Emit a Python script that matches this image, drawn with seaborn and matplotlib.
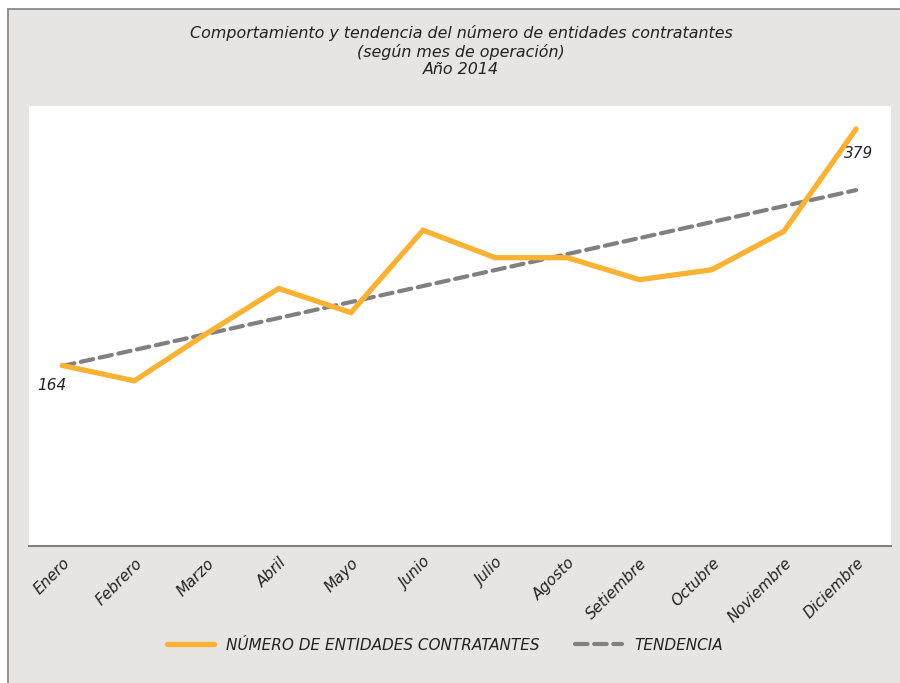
import numpy as np
import pandas as pd
import matplotlib
matplotlib.use("Agg")
import matplotlib.pyplot as plt
import seaborn as sns
from matplotlib.patches import Rectangle

# data
meses = ["Enero", "Febrero", "Marzo", "Abril", "Mayo", "Junio", "Julio",
         "Agosto", "Setiembre", "Octubre", "Noviembre", "Diciembre"]
entidades = [164, 150, 193, 234, 212, 287, 262, 262, 242, 251, 286, 379]

serie_label = "NÚMERO DE ENTIDADES CONTRATANTES"
tendencia_label = "TENDENCIA"
titulo = ("Comportamiento y tendencia del número de entidades contratantes\n"
          "(según mes de operación)\nAño 2014")

naranja = "#F9B233"
gris = "#808080"
fondo = "#E8E4E1"

sns.set_theme(style="white")
plt.rcParams["font.family"] = ["DejaVu Sans"]

df = pd.DataFrame({"pos": np.arange(len(meses)), "mes": meses, "valor": entidades})
# linear trend fitted on the series
coef = np.polyfit(df["pos"], df["valor"], 1)
df["tendencia"] = np.polyval(coef, df["pos"])

fig = plt.figure(figsize=(9, 6.83), dpi=100)
fig.patch.set_facecolor("white")
# outer frame of the chart area
fig.patches.append(Rectangle((8 / 900, -0.05), 1.2, (683 - 9) / 683 + 0.05,
                             transform=fig.transFigure, facecolor=fondo,
                             edgecolor="#8a8a8a", linewidth=1.3, zorder=-5))

ax = fig.add_axes([29 / 900, (683 - 545.7) / 683, (890.7 - 29) / 900, (545.7 - 106) / 683])
ax.set_facecolor("white")

sns.lineplot(data=df, x="pos", y="valor", ax=ax, color=naranja, linewidth=3.8,
             label=serie_label, solid_capstyle="round", solid_joinstyle="miter", zorder=3)
sns.lineplot(data=df, x="pos", y="tendencia", ax=ax, color=gris, linewidth=3.0,
             label=tendencia_label, dashes=False, zorder=2)
ax.lines[-1].set_dashes([3.0, 1.6])
ax.lines[-1].set_dash_capstyle("round")

ax.set_xlim(-0.46, len(meses) - 0.52)
ax.set_ylim(0, 400)
ax.set_yticks([])
ax.set_xticks(df["pos"])
ax.set_xticklabels(meses, rotation=45, ha="right", rotation_mode="anchor",
                   fontsize=11, color="#222222")
for t in ax.get_xticklabels():
    t.set_fontstyle("italic")
ax.tick_params(axis="x", length=0, pad=7)
ax.set_xlabel("")
ax.set_ylabel("")
for s in ["top", "left", "right"]:
    ax.spines[s].set_visible(False)
ax.spines["bottom"].set_color(gris)
ax.spines["bottom"].set_linewidth(1.5)

# value labels on first and last points
ax.annotate(str(entidades[0]), (0, entidades[0]), xytext=(-18, -18),
            textcoords="offset points", fontsize=11, style="italic", color="#222222")
ax.annotate(str(entidades[-1]), (len(meses) - 1, entidades[-1]), xytext=(-9, -21),
            textcoords="offset points", fontsize=11, style="italic", color="#222222")

fig.text(461 / 900, 1 - 25 / 683, titulo, ha="center", va="top", fontsize=11.4,
         style="italic", color="#222222", linespacing=1.22)

leg = ax.legend(loc="center", bbox_to_anchor=(445 / 900, 1 - 645 / 683),
                bbox_transform=fig.transFigure, ncol=2, frameon=False,
                fontsize=11, handlelength=3.1, columnspacing=2.3, handletextpad=0.8)
for t in leg.get_texts():
    t.set_style("italic")
    t.set_color("#222222")

fig.savefig("out.png", dpi=100, facecolor=fig.get_facecolor())
